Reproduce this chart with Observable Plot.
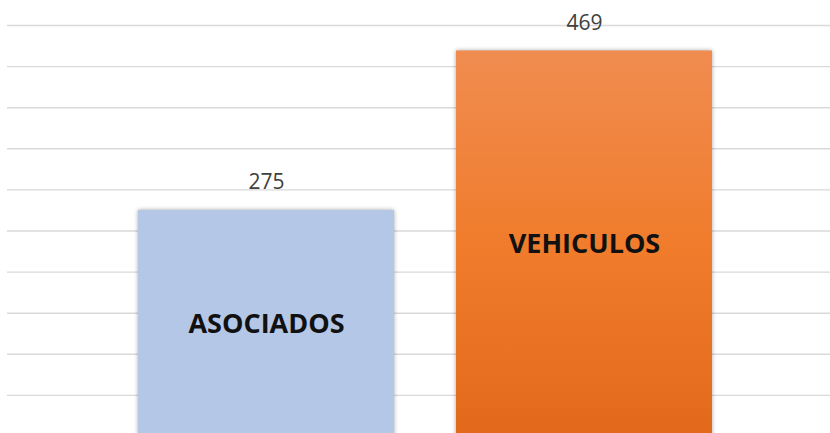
<!DOCTYPE html>
<html><head><meta charset="utf-8">
<script src="https://cdn.jsdelivr.net/npm/d3@7"></script>
<script src="https://cdn.jsdelivr.net/npm/@observablehq/plot@0.6"></script>
<style>body{margin:0;background:#fff;overflow:hidden}</style>
</head><body><div id="chart"></div>
<script>
const categories = ["ASOCIADOS", "VEHICULOS"];
const values = [275, 469];
const gridTicks = [50, 100, 150, 200, 250, 300, 350, 400, 450, 500];
const barColors = ["#b4c7e7", "url(#orangeGrad)"];

const data = categories.map((c, i) => ({category: c, value: values[i], color: barColors[i]}));

const defs = () => {
  const svg = d3.create("svg:defs");
  const g = svg.append("linearGradient").attr("id", "orangeGrad")
    .attr("x1", 0).attr("y1", 0).attr("x2", 0).attr("y2", 1);
  g.append("stop").attr("offset", "0%").attr("stop-color", "#f08c50");
  g.append("stop").attr("offset", "50%").attr("stop-color", "#f07c2c");
  g.append("stop").attr("offset", "100%").attr("stop-color", "#e2691b");
  return svg.node();
};

const plot = Plot.plot({
  width: 830, height: 433,
  marginLeft: 7, marginRight: 0, marginTop: 25, marginBottom: 0,
  style: {background: "#fff", overflow: "hidden"},
  x: {domain: categories, paddingInner: 0.194, paddingOuter: 0.387, align: 0.526, axis: null},
  y: {domain: [0, 500], range: [436, 25], axis: null},
  marks: [
    defs,
    Plot.ruleY(gridTicks, {stroke: "#d9d9d9", strokeWidth: 1.4}),
    Plot.barY(data.filter(d => d.category === "ASOCIADOS"), {x: "category", y: "value", fill: barColors[0]}),
    Plot.barY(data.filter(d => d.category === "VEHICULOS"), {x: "category", y: "value", fill: barColors[1]}),
    Plot.text(data, {x: "category", y: "value", text: d => String(d.value), dy: -28,
      fontSize: 21, fill: "#404040", fontFamily: "'Open Sans', sans-serif"}),
    Plot.text(data, {x: "category", y: d => d.value / 2, text: "category", fontWeight: "bold",
      fontSize: 27, fill: "#111", fontFamily: "'Open Sans', sans-serif", dy: 1})
  ]
});
d3.select(plot).selectAll("g[aria-label='bar']").style("filter", "drop-shadow(0px 0px 2px rgba(0,0,0,0.35))");
document.getElementById("chart").appendChild(plot);
</script>
</body></html>
